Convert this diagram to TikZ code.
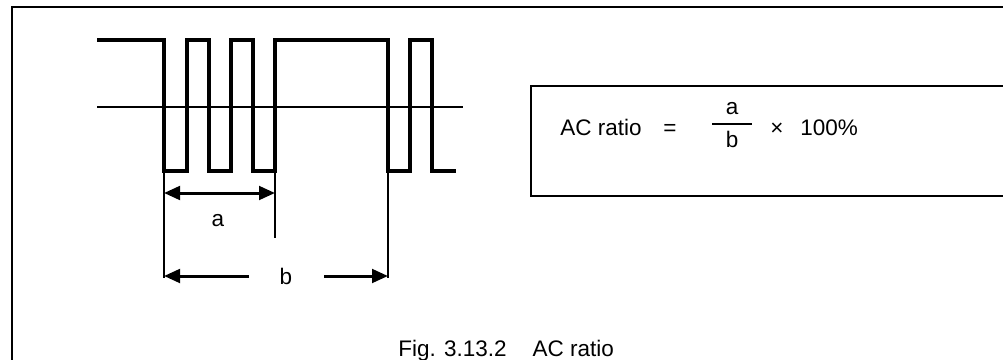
\documentclass[tikz,border=0pt]{standalone}
\usepackage{fontspec}
\setmainfont{Liberation Sans}
\usetikzlibrary{arrows.meta,positioning}

\begin{document}
\begin{tikzpicture}[x=0.025cm,y=-0.025cm,
    wave/.style={line width=1mm,line join=miter},
    thinline/.style={line width=.45mm},
    extline/.style={line width=.35mm},
    dimarrow/.style={line width=.75mm,-{Triangle[length=4mm,width=3.4mm]}},
    label/.style={font=\fontsize{16}{19}\selectfont,inner sep=0pt}]
    \useasboundingbox (0,0) rectangle (1003,360);
    % open frame
    \coordinate (frameLow) at (12,360);
    \coordinate (frameCorner) at (12,7);
    \coordinate (frameRight) at (1003,7);
    \draw[line width=.65mm] (frameLow) -- (frameCorner) -- (frameRight);
    % pulse train
    \draw[thinline] (97,107) -- (463,107);
    \draw[wave] (97,40) -- (164,40) -- (164,171) -- (187,171) -- (187,40)
      -- (209,40) -- (209,171) -- (231,171) -- (231,40) -- (253,40)
      -- (253,171) -- (275,171) -- (275,40) -- (388,40) -- (388,171)
      -- (410,171) -- (410,40) -- (432,40) -- (432,171) -- (456,171);
    % dimension lines
    \coordinate (aStart) at (164,171);
    \coordinate (aEnd) at (275,171);
    \coordinate (bEnd) at (388,171);
    \coordinate (aLeft) at (164,193);
    \coordinate (aRight) at (275,193);
    \coordinate (bLeft) at (164,276);
    \coordinate (bRight) at (388,276);
    \draw[extline] (aStart) -- (164,278) (aEnd) -- (275,238) (bEnd) -- (388,278);
    \draw[dimarrow,{Triangle[length=4mm,width=3.4mm]}-{Triangle[length=4mm,width=3.4mm]}]
      (aLeft) -- (aRight);
    \node[label,anchor=base] (aText) at (218,226) {a};
    \node[label,anchor=base] (bText) at (286,284) {b};
    \coordinate (bGapL) at (249,276);
    \coordinate (bGapR) at (324,276);
    \draw[dimarrow] (bGapL) -- (bLeft);
    \draw[dimarrow] (bGapR) -- (bRight);
    % formula box
    \node[draw,line width=.5mm,minimum width=380,minimum height=78,
      anchor=north west,inner sep=0pt] (ratioBox) at (530,85) {};
    \node[label,anchor=base west] (ratioName) at (560,136) {AC ratio};
    \node[label,anchor=base] (ratioEq) at (670,136) {=};
    \node[label,anchor=base] (ratioNum) at (732,115) {a};
    \node[label,anchor=base] (ratioDen) at (732,148) {b};
    \draw[thinline] (712,124) -- (752,124);
    \node[label,anchor=base] (ratioTimes) at (777,136) {×};
    \node[label,anchor=base west] (ratioPct) at (800,136) {100\%};
    % caption
    \node[label,anchor=base west] (figCaption) at (398,356)
      {Fig. 3.13.2\hspace{1.15em}AC ratio};
  \end{tikzpicture}
\end{document}
